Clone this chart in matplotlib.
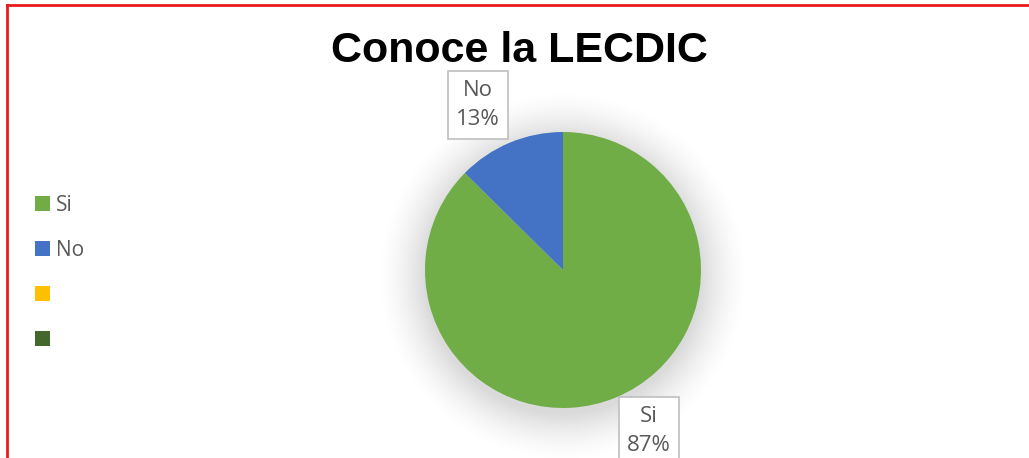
import numpy as np
import matplotlib
matplotlib.use("Agg")
import matplotlib.pyplot as plt
from matplotlib.patches import Patch

categorias = ["Si", "No"]
valores = [87.4, 12.6]
porcentajes = ["87%", "13%"]
colores = ["#70AD47", "#4472C4"]
leyenda_labels = ["Si", "No", "", ""]
leyenda_colores = ["#70AD47", "#4472C4", "#FFC000", "#43682B"]
titulo = "Conoce la LECDIC"

W, H = 1029, 458
fig = plt.figure(figsize=(W / 100, H / 100), dpi=100)
ax = fig.add_axes([0, 0, 1, 1])

cx, cy, r = 563, H - 270, 138

# sombra suave alrededor del pastel
n = 400
xs = np.linspace(cx - r - 60, cx + r + 60, n)
ys = np.linspace(cy - r - 66, cy + r + 54, n)
X, Y = np.meshgrid(xs, ys)
d = np.hypot(X - cx, Y - (cy - 6))
a = np.clip((r + 48 - d) / 48, 0, 1) ** 1.6 * 0.32
img = np.zeros((n, n, 4))
img[..., :3] = 0.55
img[..., 3] = a
ax.imshow(img, extent=(xs[0], xs[-1], ys[0], ys[-1]), origin="lower", zorder=1)

wedges, _ = ax.pie(valores, colors=colores, startangle=90, counterclock=False,
                   center=(cx, cy), radius=r, wedgeprops=dict(linewidth=0),
                   frame=True)
for w in wedges:
    w.set_zorder(2)
ax.set_xlim(0, W)
ax.set_ylim(0, H)
ax.set_aspect("equal")
ax.axis("off")

# etiquetas tipo globo
pos_etiquetas = {"No": (478, H - 105), "Si": (649, H - 431)}
for cat, p in zip(categorias, porcentajes):
    x, y = pos_etiquetas[cat]
    ax.text(x, y, f"{cat}\n{p}", ha="center", va="center",
            fontsize=16, color="#595959", family="Open Sans", linespacing=1.55,
            zorder=5,
            bbox=dict(boxstyle="square,pad=0.38", fc="white", ec="#BFBFBF", lw=1.2))

ax.text(W / 2 + 5, H - 51, titulo, ha="center", va="center", fontsize=31,
        fontweight="bold", family="Liberation Sans", color="black", zorder=6)

handles = [Patch(facecolor=c, edgecolor="none") for c in leyenda_colores]
fig.legend(handles, leyenda_labels, loc="upper left", bbox_to_anchor=(35 / W, 1 - 195 / H),
           frameon=False, borderpad=0, borderaxespad=0,
           handlelength=0.7, handleheight=0.7, handletextpad=0.3,
           labelspacing=1.15, prop={"family": "Open Sans", "size": 15},
           labelcolor="#595959")

# borde rojo
ax.plot([7, 7], [-10, H - 5], color="#E81C1C", lw=2, zorder=10, clip_on=False)
ax.plot([7, W + 10], [H - 5, H - 5], color="#E81C1C", lw=2, zorder=10, clip_on=False)

fig.savefig("out.png", dpi=100)
